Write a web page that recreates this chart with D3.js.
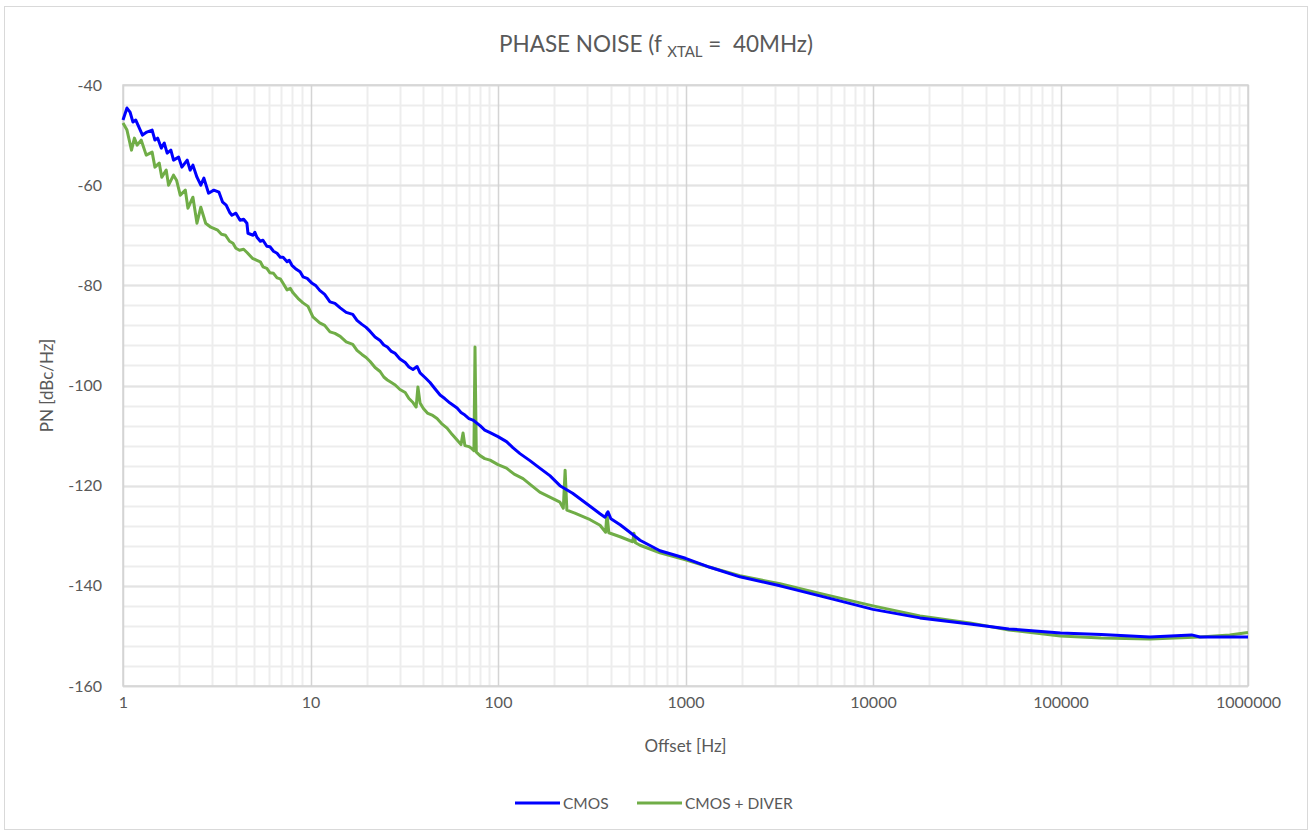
<!DOCTYPE html>
<html>
<head>
<meta charset="utf-8">
<script src="https://cdn.jsdelivr.net/npm/d3@7"></script>
<style>
  body { margin: 0; background: #fff; }
  svg text { font-family: Lato, "Open Sans", sans-serif; fill: #595959; }
</style>
</head>
<body>
<div id="chart"></div>
<script>
// offset [Hz], phase noise [dBc/Hz]
var cmos = [
  [1, -47.0], [1.05, -44.6], [1.09, -45.4], [1.13, -47.4], [1.17, -47.0], [1.27, -50.0],
  [1.34, -49.4], [1.43, -49.0], [1.48, -51.0], [1.53, -50.6], [1.6, -52.6], [1.66, -51.6],
  [1.72, -53.6], [1.8, -53.0], [1.86, -55.0], [1.98, -54.4], [2.06, -56.4], [2.2, -55.0],
  [2.28, -57.0], [2.36, -56.0], [2.48, -58.4], [2.6, -60.0], [2.7, -58.6], [2.86, -61.6],
  [3.05, -61.0], [3.25, -61.4], [3.4, -63.4], [3.55, -64.0], [3.7, -65.4], [3.81, -66.0],
  [4.0, -65.6], [4.21, -67.0], [4.4, -66.8], [4.58, -67.6], [4.64, -69.6], [4.94, -70.0],
  [5.05, -69.4], [5.18, -70.4], [5.4, -71.2], [5.58, -71.0], [5.85, -72.2], [6.08, -72.3],
  [6.35, -73.2], [6.63, -73.6], [6.9, -74.4], [7.14, -74.4], [7.5, -75.3], [7.7, -75.0],
  [7.96, -76.0], [8.4, -76.8], [8.8, -77.3], [9.12, -78.3], [9.6, -78.6], [10.2, -79.6],
  [10.7, -80.1], [11.2, -81.0], [11.9, -81.8], [12.7, -83.3], [13.5, -83.6], [14.4, -84.5],
  [15.5, -85.4], [16.8, -85.8], [17.7, -87.0], [18.8, -87.8], [19.8, -88.4], [20.8, -89.2],
  [22.1, -90.3], [23.5, -91.0], [24.6, -91.9], [25.7, -92.3], [27, -93.2], [28.3, -93.6],
  [30, -94.7], [32, -95.4], [33.5, -96.3], [35.2, -96.8], [37, -96.2], [38.4, -97.5],
  [40.8, -98.4], [43.4, -99.4], [46, -100.6], [49.1, -101.9], [52, -102.6], [55.5, -103.5],
  [60.5, -104.5], [63.5, -105.4], [66.6, -105.9], [70, -106.6], [73.5, -106.9], [80.2, -108.0],
  [85, -108.9], [90.7, -109.4], [100, -110.2], [111, -111.2], [120, -112.4], [131, -113.6],
  [148, -115.0], [167, -116.5], [189, -118.0], [214, -120.0], [250, -121.5], [290, -123.3],
  [320, -124.5], [350, -125.6], [372, -126.3], [386, -125.2], [400, -126.6], [448, -127.8],
  [505, -129.3], [572, -130.9], [731, -133.0], [1000, -134.5], [1350, -136.3], [1950, -138.2],
  [3190, -140.0], [5210, -142.0], [7500, -143.5], [10000, -144.7], [17800, -146.4],
  [32900, -147.6], [53000, -148.6], [100000, -149.4], [165000, -149.7], [300000, -150.2],
  [500000, -149.8], [555000, -150.2], [1000000, -150.2]
];

var cmosDiver = [
  [1, -47.6], [1.05, -49.0], [1.11, -53.0], [1.15, -50.6], [1.19, -52.0], [1.25, -51.0],
  [1.33, -54.0], [1.43, -53.4], [1.48, -56.4], [1.56, -55.6], [1.61, -58.4], [1.7, -57.0],
  [1.75, -60.0], [1.86, -58.0], [1.93, -59.0], [2.02, -62.0], [2.15, -61.0], [2.22, -64.6],
  [2.36, -62.4], [2.48, -67.6], [2.6, -64.4], [2.76, -67.6], [2.94, -68.4], [3.2, -69.0],
  [3.35, -69.8], [3.52, -70.0], [3.7, -71.2], [3.86, -71.6], [4.0, -72.6], [4.18, -73.0],
  [4.4, -72.8], [4.6, -73.5], [4.9, -74.6], [5.18, -75.0], [5.4, -75.3], [5.58, -76.3],
  [5.85, -76.6], [6.08, -77.5], [6.35, -77.6], [6.63, -78.5], [6.9, -78.7], [7.14, -79.6],
  [7.5, -80.9], [7.8, -80.6], [8.07, -81.5], [8.57, -82.6], [9.12, -83.5], [9.7, -84.2],
  [10.3, -86.3], [11.2, -87.5], [11.9, -88.0], [12.7, -89.3], [13.5, -89.6], [14.4, -90.2],
  [15.5, -91.3], [16.8, -91.8], [17.7, -93.0], [18.8, -93.8], [19.8, -94.4], [20.8, -95.2],
  [22.1, -96.4], [23.5, -97.2], [24.6, -98.3], [25.7, -98.9], [27, -99.4], [28.3, -99.9],
  [30, -100.8], [32, -101.4], [33.5, -102.6], [35.2, -103.4], [36.6, -104.3], [37.4, -100.3],
  [38.4, -103.5], [40, -104.6], [42, -105.5], [44.5, -105.9], [47.3, -106.6], [50, -107.6],
  [53.5, -108.5], [57, -109.8], [60.5, -110.9], [63.5, -111.8], [65.1, -109.5], [66.6, -112.0],
  [70, -112.2], [72.5, -112.6], [74.4, -113.0], [75.4, -92.3], [76.6, -113.3], [80.2, -114.0],
  [85, -114.6], [90.7, -114.9], [100, -115.8], [111, -116.5], [122, -117.7], [136, -118.6],
  [150, -119.9], [167, -121.3], [189, -122.3], [214, -123.3], [223, -124.5], [228, -116.9],
  [233, -124.9], [257, -125.5], [310, -126.8], [350, -127.9], [375, -129.3], [381, -125.5],
  [390, -129.4], [448, -130.2], [523, -131.2], [531, -129.5], [541, -131.4], [572, -131.9],
  [731, -133.4], [1000, -134.8], [1350, -136.3], [1950, -138.0], [3190, -139.6], [5210, -141.5],
  [7500, -142.9], [10000, -144.0], [17800, -146.0], [32900, -147.4], [53000, -148.8],
  [100000, -150.0], [165000, -150.4], [300000, -150.6], [555000, -150.2], [800000, -149.8],
  [1000000, -149.3]
];

var xTicks = [1, 10, 100, 1000, 10000, 100000, 1000000];
var yTicks = [-40, -60, -80, -100, -120, -140, -160];

var WIDTH = 1311, HEIGHT = 834;
var PLOT_L = 123, PLOT_R = 1248, PLOT_T = 85, PLOT_B = 686;

var svg = d3.select('#chart').append('svg')
  .attr('width', WIDTH)
  .attr('height', HEIGHT);

// outer chart border
svg.append('rect')
  .attr('x', 4.5).attr('y', 6.5)
  .attr('width', 1303).attr('height', 823)
  .attr('fill', '#fff')
  .attr('stroke', '#d9d9d9');

var x = d3.scaleLog().domain([1, 1000000]).range([PLOT_L, PLOT_R]);
var y = d3.scaleLinear().domain([-160, -40]).range([PLOT_B, PLOT_T]);

// minor grid lines
var minorX = [];
for (var d = 1; d < 1000000; d *= 10) {
  for (var k = 2; k < 10; k++) minorX.push(d * k);
}
var minorY = d3.range(-160, -39, 4);

var grid = svg.append('g').attr('class', 'grid');
grid.selectAll('line.minx').data(minorX).enter().append('line')
  .attr('x1', function(d){ return Math.round(x(d)) + 0.5; })
  .attr('x2', function(d){ return Math.round(x(d)) + 0.5; })
  .attr('y1', PLOT_T).attr('y2', PLOT_B)
  .attr('stroke', '#ededed').attr('stroke-width', 2);
grid.selectAll('line.miny').data(minorY).enter().append('line')
  .attr('y1', function(d){ return Math.round(y(d)) + 0.5; })
  .attr('y2', function(d){ return Math.round(y(d)) + 0.5; })
  .attr('x1', PLOT_L).attr('x2', PLOT_R)
  .attr('stroke', '#ededed').attr('stroke-width', 2);
grid.selectAll('line.majy').data(yTicks).enter().append('line')
  .attr('y1', function(d){ return Math.round(y(d)) + 0.5; })
  .attr('y2', function(d){ return Math.round(y(d)) + 0.5; })
  .attr('x1', PLOT_L).attr('x2', PLOT_R)
  .attr('stroke', '#e3e3e3').attr('stroke-width', 2);
grid.selectAll('line.majx').data(xTicks).enter().append('line')
  .attr('x1', function(d){ return Math.round(x(d)) + 0.5; })
  .attr('x2', function(d){ return Math.round(x(d)) + 0.5; })
  .attr('y1', PLOT_T).attr('y2', PLOT_B)
  .attr('stroke', '#d4d4d4').attr('stroke-width', 1.5);

svg.append('rect')
  .attr('x', PLOT_L).attr('y', PLOT_T)
  .attr('width', PLOT_R - PLOT_L).attr('height', PLOT_B - PLOT_T)
  .attr('fill', 'none').attr('stroke', '#d4d4d4').attr('stroke-width', 1.5);

// axes (labels only)
var xAxis = svg.append('g')
  .attr('transform', 'translate(0,' + (PLOT_B + 8) + ')')
  .call(d3.axisBottom(x).tickValues(xTicks).tickFormat(function(d){ return String(d); }).tickSize(0));
var yAxis = svg.append('g')
  .attr('transform', 'translate(' + (PLOT_L - 18) + ',0)')
  .call(d3.axisLeft(y).tickValues(yTicks).tickFormat(function(d){ return String(d); }).tickSize(0));
[xAxis, yAxis].forEach(function(a){
  a.select('.domain').remove();
  a.selectAll('text')
    .style('font-family', 'Lato, "Open Sans", sans-serif')
    .style('font-size', '16px')
    .attr('fill', '#595959');
});

// series
var line = d3.line()
  .x(function(d){ return x(d[0]); })
  .y(function(d){ return y(d[1]); });

svg.append('path').datum(cmosDiver)
  .attr('d', line)
  .attr('fill', 'none').attr('stroke', '#70ad47')
  .attr('stroke-width', 3).attr('stroke-linejoin', 'round');
svg.append('path').datum(cmos)
  .attr('d', line)
  .attr('fill', 'none').attr('stroke', '#0000ff')
  .attr('stroke-width', 3).attr('stroke-linejoin', 'round');

// title
var title = svg.append('text')
  .attr('x', 656).attr('y', 52)
  .attr('text-anchor', 'middle')
  .attr('xml:space', 'preserve')
  .style('font-size', '22.5px');
title.append('tspan').text('PHASE NOISE (f ');
title.append('tspan').text('XTAL').style('font-size', '15px').attr('dy', 5);
title.append('tspan').text(' =  40MHz)').attr('dy', -5);

// axis titles
svg.append('text')
  .attr('x', (PLOT_L + PLOT_R) / 2).attr('y', 752)
  .attr('text-anchor', 'middle')
  .style('font-size', '17px')
  .text('Offset [Hz]');
svg.append('text')
  .attr('transform', 'translate(53,' + ((PLOT_T + PLOT_B) / 2) + ') rotate(-90)')
  .attr('text-anchor', 'middle')
  .style('font-size', '17px')
  .text('PN [dBc/Hz]');

// legend
var legendItems = [
  { name: 'CMOS', color: '#0000ff', x: 515 },
  { name: 'CMOS + DIVER', color: '#70ad47', x: 637 }
];
var lg = svg.append('g').selectAll('g').data(legendItems).enter().append('g')
  .attr('transform', function(d){ return 'translate(' + d.x + ',803)'; });
lg.append('line')
  .attr('x1', 0).attr('x2', 45)
  .attr('stroke', function(d){ return d.color; })
  .attr('stroke-width', 3);
lg.append('text')
  .attr('x', 48).attr('y', 5.5)
  .style('font-size', '15.5px')
  .text(function(d){ return d.name; });
</script>
</body>
</html>
